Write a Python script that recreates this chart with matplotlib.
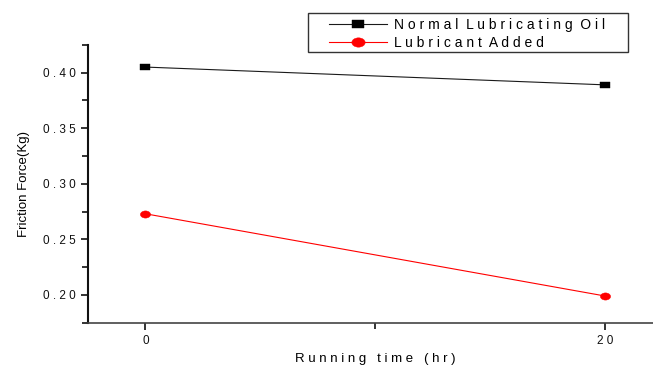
import matplotlib
matplotlib.use("Agg")
import matplotlib.pyplot as plt
from matplotlib.ticker import FixedLocator, FixedFormatter, MultipleLocator
from matplotlib.path import Path
from matplotlib.patches import Rectangle
from matplotlib.transforms import Affine2D

plt.rcParams['font.family'] = ['Liberation Sans', 'DejaVu Sans']

# Running time (hr) and measured friction force (kg)
time_hr = [0, 20]
normal_oil = [0.405, 0.389]
lubricant_added = [0.273, 0.199]

y_ticks = [0.20, 0.25, 0.30, 0.35, 0.40]
y_tick_labels = ["0 . 2 0", "0 . 2 5", "0 . 3 0", "0 . 3 5", "0 . 4 0"]
x_ticks = [0, 20]
x_tick_labels = ["0", "2 0"]

# flattened square and ellipse markers
flat_square = Path([(-1, -0.62), (1, -0.62), (1, 0.62), (-1, 0.62), (-1, -0.62)],
                   [Path.MOVETO, Path.LINETO, Path.LINETO, Path.LINETO, Path.CLOSEPOLY])
flat_circle = Affine2D().scale(1.0, 0.7).transform_path(Path.unit_circle())

fig = plt.figure(figsize=(6.53, 3.70), dpi=100)
ax = fig.add_axes([0.1348, 0.1278, 0.880, 0.751])

ax.plot(time_hr, normal_oil, color="#1a1a1a", lw=0.8, marker=flat_square,
        markersize=6.8, markerfacecolor="black", markeredgecolor="black",
        markeredgewidth=0.3,
        label="N o r m a l  L u b r i c a t i n g  O i l")
ax.plot(time_hr, lubricant_added, color="red", lw=0.8, marker=flat_circle,
        markersize=7.4, markerfacecolor="red", markeredgecolor="red",
        markeredgewidth=0.3,
        label="L u b r i c a n t  A d d e d")

ax.set_xlim(-2.5, 22.5)
ax.set_ylim(0.175, 0.425)

ax.yaxis.set_major_locator(FixedLocator(y_ticks))
ax.yaxis.set_major_formatter(FixedFormatter(y_tick_labels))
ax.yaxis.set_minor_locator(MultipleLocator(0.025))
ax.xaxis.set_major_locator(FixedLocator(x_ticks))
ax.xaxis.set_major_formatter(FixedFormatter(x_tick_labels))
ax.xaxis.set_minor_locator(FixedLocator([10]))

for side in ("top", "right"):
    ax.spines[side].set_visible(False)
ax.spines["left"].set_linewidth(1.5)
ax.spines["left"].set_color("#111111")
ax.spines["bottom"].set_linewidth(1.2)
ax.spines["bottom"].set_color("#444444")

ax.tick_params(axis="both", which="major", direction="out", length=5,
               width=1.2, labelsize=8.5, colors="#111111", pad=4)
ax.tick_params(axis="both", which="minor", direction="out", length=4,
               width=1.2, colors="#111111")
ax.tick_params(axis="x", which="major", pad=3.5)

ax.set_ylabel("Friction Force(Kg)", fontsize=9.5, labelpad=9)
ax.set_xlabel("R u n n i n g   t i m e   ( h r )", fontsize=9.5, labelpad=5)

leg = fig.legend(loc="upper left",
                 bbox_to_anchor=(326 / 653, 1 - 15.5 / 370),
                 fontsize=10, frameon=False,
                 borderpad=0.2, handlelength=4.2, handletextpad=0.5,
                 labelspacing=0.25, borderaxespad=0, markerscale=1.3)

# legend frame
fig.add_artist(Rectangle((308 / 653, 1 - 52 / 370), 320 / 653, 39 / 370,
                         transform=fig.transFigure, fill=False,
                         edgecolor="#333333", linewidth=1.0))

fig.savefig("out.png", dpi=100)
